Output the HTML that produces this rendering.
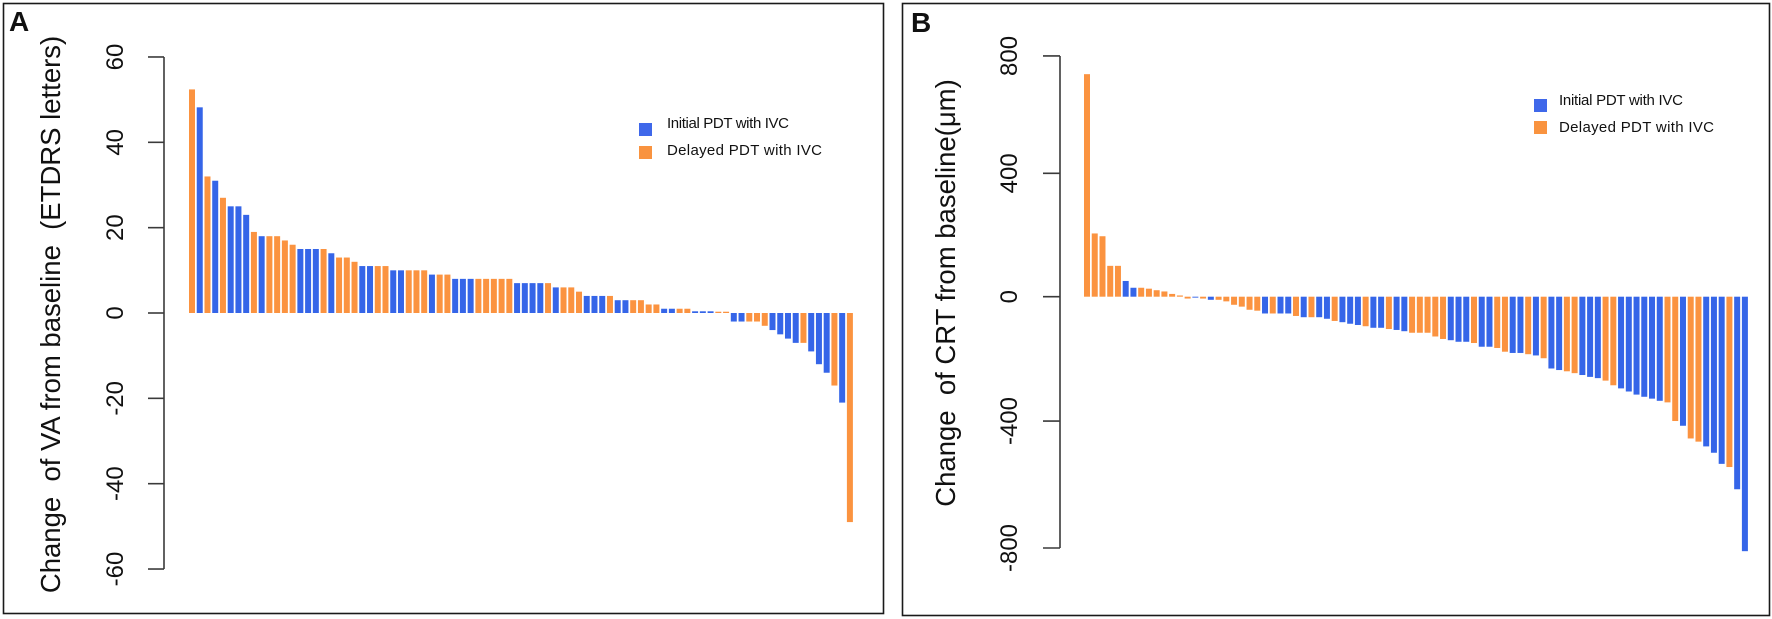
<!DOCTYPE html>
<html>
<head>
<meta charset="utf-8">
<title>Change of VA and CRT from baseline</title>
<style>
html,body{margin:0;padding:0;background:#fff;width:1772px;height:619px;overflow:hidden}
svg{display:block}
text{font-family:"Liberation Sans",sans-serif;fill:#111;white-space:pre}
</style>
</head>
<body>
<svg id="fig" xmlns="http://www.w3.org/2000/svg" width="1772" height="619" viewBox="0 0 1772 619">
  <rect x="3.5" y="3.5" width="880" height="610" fill="#fff" stroke="#1a1a1a" stroke-width="1.6"/>
  <rect x="902.5" y="3.5" width="867" height="612" fill="#fff" stroke="#1a1a1a" stroke-width="1.6"/>
  <text x="9" y="31" font-size="28" font-weight="700">A</text>
  <text x="911" y="32" font-size="28" font-weight="700">B</text>
  <text transform="translate(60,314.5) rotate(-90)" text-anchor="middle" font-size="27.5" fill="#222">Change  of VA from baseline  (ETDRS letters)</text>
  <text transform="translate(955,293) rotate(-90)" text-anchor="middle" font-size="27.5" fill="#222">Change  of CRT from baseline(μm)</text>
  <g id="panel-a"></g>
  <g id="panel-b"></g>
  <rect x="639" y="123" width="13" height="13" fill="#3f68ea"/>
  <text x="667" y="128" font-size="15" textLength="122" lengthAdjust="spacing" fill="#333">Initial PDT with IVC</text>
  <rect x="639" y="146" width="13" height="13" fill="#f9933f"/>
  <text x="667" y="155" font-size="15" textLength="155" lengthAdjust="spacing" fill="#333">Delayed PDT with IVC</text>
  <rect x="1534" y="99" width="13" height="13" fill="#3f68ea"/>
  <text x="1559" y="105" font-size="15" textLength="124" lengthAdjust="spacing" fill="#333">Initial PDT with IVC</text>
  <rect x="1534" y="121" width="13" height="13" fill="#f9933f"/>
  <text x="1559" y="132" font-size="15" textLength="155" lengthAdjust="spacing" fill="#333">Delayed PDT with IVC</text>
</svg>
<script>
const vaTicks = [60, 40, 20, 0, -20, -40, -60];
const vaValues = [52.4,48.2,32,31,27,25,25,23,19,18,18,18,17,16,15,15,15,15,14,13,13,12,11,11,11,11,10,10,10,10,10,9,9,9,8,8,8,8,8,8,8,8,7,7,7,7,7,6,6,6,5,4,4,4,4,3,3,3,3,2,2,1,1,1,1,0.4,0.4,0.4,0.3,0.3,-2,-2,-2,-2,-3,-4,-5,-6,-7,-7,-9,-12,-14,-17,-21,-49];
const vaGroups = "DIDIDIIIDIDDDDIIIDIDDDIIDDIIDDDIDDIIIDDDDDIIIIDIDDDIIIDIIDDDDIIDDIIIDDIIDDDIIIIDIIIDID";
const crtTicks = [800, 400, 0, -400, -800];
const crtValues = [738,205,196,100,100,51,29,29,26,21,17,9,4,-6,-3,-6,-10,-10,-15,-26,-32,-42,-45,-54,-54,-54,-54,-62,-66,-66,-66,-71,-78,-82,-87,-91,-95,-100,-100,-104,-107,-111,-116,-116,-116,-128,-136,-140,-145,-145,-149,-161,-161,-165,-177,-181,-181,-185,-189,-198,-231,-236,-240,-246,-252,-258,-262,-270,-285,-295,-305,-315,-322,-328,-335,-340,-400,-415,-455,-465,-480,-500,-535,-545,-615,-810];
const crtGroups = "DDDDDIIDDDDDDDIDIDDDDDDIDIIDIDIIDIIIDIIDIIDDDDDIIIDIIDDIIDIDIIDDIIIDDIIIIIIDDIDDIIIDII";
const groupColors = { I: "#3565e8", D: "#fb9340" };
const vaXStart = 192, vaXStep = 7.74;
const crtXStart = 1087, crtXStep = 7.74;
const barWidth = 6;

function vaX(i) { return vaXStart + vaXStep * i; }
function vaY(v) { return 313 - v * 4.267; }
function crtX(i) { return crtXStart + crtXStep * i; }
function crtY(v) {
  if (v >= 400) return 173.3 - (v - 400) * 0.2933;
  if (v >= 0) return 296.7 - v * 0.3085;
  if (v >= -400) return 296.7 - v * 0.3108;
  return 421 - (v + 400) * 0.3175;
}
const NS = "http://www.w3.org/2000/svg";

const panelA = document.getElementById("panel-a");
const axisA = document.createElementNS(NS, "line");


axisA.setAttribute("x1", 164); axisA.setAttribute("x2", 164);
axisA.setAttribute("y1", vaY(vaTicks[0])); axisA.setAttribute("y2", vaY(vaTicks[vaTicks.length - 1]));
axisA.setAttribute("stroke", "#3a3a3a"); axisA.setAttribute("stroke-width", "1.6");
panelA.appendChild(axisA);
vaTicks.forEach(function (t) {
  const tick = document.createElementNS(NS, "line");
  
  
  tick.setAttribute("x1", 148); tick.setAttribute("x2", 164);
  tick.setAttribute("y1", vaY(t)); tick.setAttribute("y2", vaY(t));
  tick.setAttribute("stroke", "#3a3a3a"); tick.setAttribute("stroke-width", "1.6");
  panelA.appendChild(tick);
  const label = document.createElementNS(NS, "text");
  
  
  label.setAttribute("transform", "translate(123," + vaY(t) + ") rotate(-90)");
  label.setAttribute("text-anchor", "middle");
  label.setAttribute("font-size", "24");
  label.textContent = String(t);
  panelA.appendChild(label);
});
vaValues.forEach(function (v, i) {
  const bar = document.createElementNS(NS, "rect");
  
  
  bar.setAttribute("x", vaX(i) - barWidth / 2);
  bar.setAttribute("width", barWidth);
  bar.setAttribute("y", Math.min(vaY(v), vaY(0)));
  bar.setAttribute("height", Math.abs(vaY(v) - vaY(0)));
  bar.setAttribute("fill", groupColors[vaGroups[i]]);
  panelA.appendChild(bar);
});

const panelB = document.getElementById("panel-b");
const axisB = document.createElementNS(NS, "line");


axisB.setAttribute("x1", 1060); axisB.setAttribute("x2", 1060);
axisB.setAttribute("y1", crtY(crtTicks[0])); axisB.setAttribute("y2", crtY(crtTicks[crtTicks.length - 1]));
axisB.setAttribute("stroke", "#3a3a3a"); axisB.setAttribute("stroke-width", "1.6");
panelB.appendChild(axisB);
crtTicks.forEach(function (t) {
  const tick = document.createElementNS(NS, "line");
  
  
  tick.setAttribute("x1", 1043); tick.setAttribute("x2", 1060);
  tick.setAttribute("y1", crtY(t)); tick.setAttribute("y2", crtY(t));
  tick.setAttribute("stroke", "#3a3a3a"); tick.setAttribute("stroke-width", "1.6");
  panelB.appendChild(tick);
  const label = document.createElementNS(NS, "text");
  
  
  label.setAttribute("transform", "translate(1017," + crtY(t) + ") rotate(-90)");
  label.setAttribute("text-anchor", "middle");
  label.setAttribute("font-size", "24");
  label.textContent = String(t);
  panelB.appendChild(label);
});
crtValues.forEach(function (v, i) {
  const bar = document.createElementNS(NS, "rect");
  
  
  bar.setAttribute("x", crtX(i) - barWidth / 2);
  bar.setAttribute("width", barWidth);
  bar.setAttribute("y", Math.min(crtY(v), crtY(0)));
  bar.setAttribute("height", Math.abs(crtY(v) - crtY(0)));
  bar.setAttribute("fill", groupColors[crtGroups[i]]);
  panelB.appendChild(bar);
});
</script>
</body>
</html>
